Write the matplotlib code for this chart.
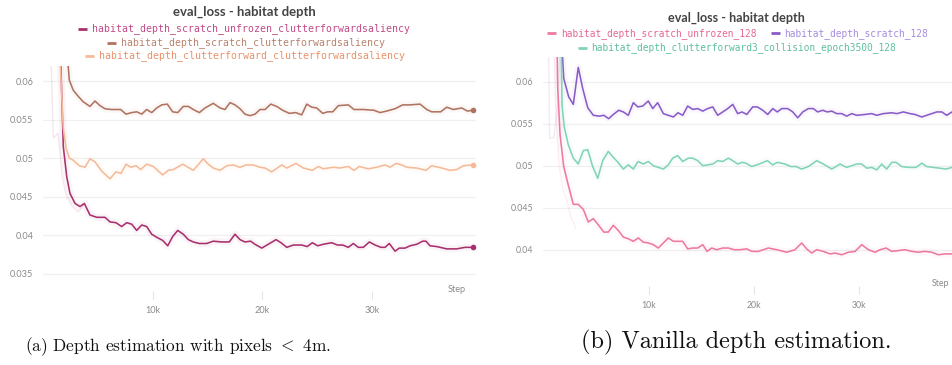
import matplotlib

matplotlib.use("Agg")
import matplotlib.pyplot as plt
from matplotlib.lines import Line2D
from matplotlib.ticker import FixedLocator, FuncFormatter

plt.rcParams["mathtext.fontset"] = "cm"

W, H = 952, 365

# ---------------------------------------------------------------- data (a)
A_TITLE = "eval_loss - habitat depth"
A_NAMES = ["habitat_depth_scratch_unfrozen_clutterforwardsaliency",
           "habitat_depth_scratch_clutterforwardsaliency",
           "habitat_depth_clutterforward_clutterforwardsaliency"]

a_unfrozen_step = [1250, 1850, 2160, 2460, 2920, 3370, 3770, 4280, 4900, 5650, 6110, 6650,
                   7170, 7630, 8090, 8540, 9000, 9450, 9910, 10370, 10910, 11370, 11820,
                   12280, 12790, 13250, 13700, 14250, 14920, 15520, 16290, 16980, 17500,
                   17960, 18410, 18930, 19320, 19940, 20540, 21240, 21700, 22220, 22820,
                   23580, 24090, 24550, 25040, 25550, 26320, 26830, 27320, 27830, 28290,
                   28740, 29200, 29750, 30270, 30810, 31180, 31570, 32090, 32480, 33000,
                   33460, 34070, 34610, 34910, 35280, 35890, 36800, 37710, 38470, 39170]
a_unfrozen_loss = [0.080, 0.0515, 0.0476, 0.0454, 0.0441, 0.0437, 0.0441, 0.0426, 0.0423,
                   0.0423, 0.0417, 0.0416, 0.0411, 0.0416, 0.0414, 0.0406, 0.0413, 0.0411,
                   0.0401, 0.0397, 0.0393, 0.0386, 0.0398, 0.0406, 0.0401, 0.0394, 0.0391,
                   0.0389, 0.0389, 0.0392, 0.0391, 0.0391, 0.0401, 0.0394, 0.0391, 0.0392,
                   0.0388, 0.0383, 0.0388, 0.0394, 0.0390, 0.0384, 0.0387, 0.0387, 0.0385,
                   0.0390, 0.0386, 0.0388, 0.0390, 0.0387, 0.0387, 0.0384, 0.0389, 0.0384,
                   0.0384, 0.0391, 0.0387, 0.0384, 0.0384, 0.0389, 0.0379, 0.0383, 0.0383,
                   0.0386, 0.0388, 0.0392, 0.0392, 0.0386, 0.0385, 0.0382, 0.0382, 0.0384,
                   0.0384]
a_unfrozen_raw_step = [600, 940, 1390, 1730, 2100, 2640, 3190, 3740]
a_unfrozen_raw_loss = [0.070, 0.0526, 0.0532, 0.0478, 0.0452, 0.0438, 0.0430, 0.0439]

a_scratch_step = [1950, 2400, 2760, 3220, 3670, 4280, 4740, 5200, 5650, 6260, 7080, 7570,
                  8090, 8540, 9000, 9450, 9910, 10370, 10820, 11330, 11820, 12280, 12790,
                  13250, 13700, 14250, 14770, 15520, 16140, 16590, 17050, 17500, 17960,
                  18410, 18870, 19330, 19780, 20240, 20760, 21300, 21850, 22450, 23040,
                  23580, 24040, 24500, 24950, 25500, 25950, 26410, 26920, 27830, 28350,
                  29200, 30170, 30720, 31330, 32090, 32790, 33460, 34370, 34980, 35430,
                  36250, 36800, 37400, 38170, 38680, 39170]
a_scratch_loss = [0.068, 0.0601, 0.0588, 0.0580, 0.0573, 0.0567, 0.0574, 0.0568, 0.0564,
                  0.0563, 0.0563, 0.0557, 0.0559, 0.0560, 0.0557, 0.0563, 0.0559, 0.0565,
                  0.0569, 0.0570, 0.0560, 0.0559, 0.0567, 0.0567, 0.0563, 0.0559, 0.0565,
                  0.0571, 0.0565, 0.0563, 0.0572, 0.0569, 0.0564, 0.0557, 0.0555, 0.0557,
                  0.0563, 0.0563, 0.0570, 0.0567, 0.0562, 0.0558, 0.0559, 0.0556, 0.0570,
                  0.0566, 0.0565, 0.0558, 0.0560, 0.0560, 0.0568, 0.0569, 0.0563, 0.0563,
                  0.0562, 0.0559, 0.0561, 0.0564, 0.0569, 0.0569, 0.0570, 0.0563, 0.0560,
                  0.0560, 0.0566, 0.0563, 0.0565, 0.0561, 0.0562]

a_cf_step = [1450, 1850, 2100, 2400, 2760, 3310, 3830, 4280, 4740, 5350, 6110, 6650, 7110,
             7570, 8000, 8480, 8910, 9450, 10060, 10910, 11420, 11880, 12740, 13700, 14610,
             15070, 15520, 16140, 16750, 17350, 17960, 18510, 19170, 19780, 20240, 20850,
             21760, 22220, 23060, 23730, 24550, 25100, 25550, 26460, 27070, 27830, 28350,
             28830, 29650, 30420, 31180, 31630, 32180, 32700, 33150, 34070, 34910, 35430,
             36350, 37100, 37710, 38320, 39170]
a_cf_loss = [0.066, 0.0539, 0.0513, 0.0500, 0.0497, 0.0490, 0.0488, 0.0499, 0.0495, 0.0483,
             0.0473, 0.0482, 0.0480, 0.0492, 0.0488, 0.0490, 0.0485, 0.0492, 0.0489, 0.0478,
             0.0484, 0.0485, 0.0492, 0.0484, 0.0499, 0.0492, 0.0487, 0.0484, 0.0490, 0.0491,
             0.0488, 0.0491, 0.0491, 0.0488, 0.0487, 0.0482, 0.0491, 0.0487, 0.0493, 0.0487,
             0.0484, 0.0489, 0.0486, 0.0488, 0.0487, 0.0489, 0.0484, 0.0489, 0.0486, 0.0488,
             0.0491, 0.0488, 0.0493, 0.0491, 0.0488, 0.0487, 0.0484, 0.0490, 0.0487, 0.0484,
             0.0485, 0.0490, 0.0491]

# ---------------------------------------------------------------- data (b)
B_TITLE = "eval_loss - habitat depth"
B_NAMES = ["habitat_depth_scratch_unfrozen_128",
           "habitat_depth_scratch_128",
           "habitat_depth_clutterforward3_collision_epoch3500_128"]

b_unfrozen_step = [1250, 1370, 1590, 1940, 2370, 2850, 3320, 3800, 4270, 4750, 5260, 5740,
                   6170, 6650, 7120, 7600, 8070, 8550, 9020, 9500, 9970, 10450, 10920, 11400,
                   11870, 12350, 12820, 13240, 13710, 14190, 14660, 15140, 15550, 15990,
                   16470, 17040, 17570, 18140, 18680, 19320, 19790, 20420, 21370, 22170,
                   23120, 23900, 24540, 25010, 25490, 25960, 26590, 27230, 27700, 28340,
                   28970, 29600, 30240, 30870, 31500, 31980, 32550, 33090, 33710, 34350,
                   34990, 35610, 36250, 36890, 37510, 38150, 38810, 39500]
b_unfrozen_loss = [0.068, 0.0592, 0.0537, 0.0499, 0.0477, 0.0454, 0.0454, 0.0448, 0.0433,
                   0.0437, 0.0429, 0.0421, 0.0421, 0.0429, 0.0423, 0.0415, 0.0413, 0.0410,
                   0.0414, 0.0409, 0.0408, 0.0406, 0.0402, 0.0408, 0.0414, 0.0410, 0.0410,
                   0.0410, 0.0401, 0.0402, 0.0402, 0.0406, 0.0398, 0.0402, 0.0400, 0.0402,
                   0.0402, 0.0400, 0.0400, 0.0401, 0.0398, 0.0398, 0.0402, 0.0400, 0.0397,
                   0.0400, 0.0408, 0.0401, 0.0396, 0.0400, 0.0398, 0.0395, 0.0396, 0.0394,
                   0.0397, 0.0398, 0.0406, 0.0400, 0.0397, 0.0400, 0.0402, 0.0398, 0.0399,
                   0.0400, 0.0398, 0.0397, 0.0398, 0.0397, 0.0394, 0.0395, 0.0395, 0.0394]
b_unfrozen_raw_step = [900, 1200, 1500, 1900, 2200, 2600, 3100]
b_unfrozen_raw_loss = [0.070, 0.0560, 0.0500, 0.0470, 0.0460, 0.0440, 0.0425]

b_scratch_step = [1600, 1940, 2410, 2850, 3320, 3740, 4220, 4750, 5320, 5740, 6210, 6650,
                  7160, 7600, 8070, 8550, 8970, 9440, 9970, 10390, 10860, 11400, 11870,
                  12350, 12790, 13240, 13710, 14190, 14660, 15140, 15610, 16090, 16560,
                  17040, 17510, 17990, 18460, 18870, 19320, 19890, 20320, 20840, 21310,
                  21790, 22220, 22640, 23210, 23690, 24160, 24640, 25170, 25640, 26060,
                  26530, 26970, 27390, 27860, 28340, 28810, 29290, 29760, 30550, 31190,
                  31660, 32290, 33090, 33560, 34190, 34830, 35300, 35940, 36410, 36890,
                  37360, 37840, 38310, 38810, 39500]
b_scratch_loss = [0.068, 0.0604, 0.0582, 0.0573, 0.0617, 0.0592, 0.0569, 0.0560, 0.0559,
                  0.0560, 0.0556, 0.0561, 0.0566, 0.0564, 0.0560, 0.0575, 0.0570, 0.0571,
                  0.0577, 0.0568, 0.0575, 0.0562, 0.0560, 0.0558, 0.0563, 0.0560, 0.0571,
                  0.0567, 0.0568, 0.0565, 0.0568, 0.0570, 0.0560, 0.0564, 0.0568, 0.0573,
                  0.0562, 0.0564, 0.0561, 0.0570, 0.0570, 0.0566, 0.0561, 0.0568, 0.0564,
                  0.0568, 0.0568, 0.0564, 0.0557, 0.0564, 0.0568, 0.0568, 0.0564, 0.0566,
                  0.0564, 0.0565, 0.0562, 0.0562, 0.0559, 0.0562, 0.0560, 0.0561, 0.0562,
                  0.0560, 0.0562, 0.0563, 0.0562, 0.0564, 0.0562, 0.0561, 0.0558, 0.0560,
                  0.0562, 0.0564, 0.0564, 0.0560, 0.0564, 0.0563]
b_scratch_raw_step = [450, 600, 1000, 1400, 1700]
b_scratch_raw_loss = [0.070, 0.0533, 0.0533, 0.0578, 0.0700]

b_cf_step = [1650, 1780, 1990, 2370, 2850, 3320, 3800, 4220, 4690, 5170, 5640, 6170, 6650,
             7160, 7600, 8070, 8550, 8990, 9500, 9970, 10450, 10920, 11400, 11870, 12290,
             12760, 13240, 13770, 14190, 14660, 15140, 15610, 16090, 16560, 17040, 17570,
             17990, 18460, 18870, 19250, 19790, 20510, 21270, 21790, 22220, 22950, 23500,
             24000, 24540, 25170, 25960, 26590, 27390, 28180, 28810, 29760, 30240, 30710,
             31190, 31660, 32140, 32610, 33090, 33500, 34040, 34660, 35400, 35940, 36410,
             37040, 37670, 38240, 38810, 39500]
b_cf_loss = [0.068, 0.0572, 0.0546, 0.0525, 0.0509, 0.0502, 0.0518, 0.0519, 0.0499, 0.0485,
             0.0506, 0.0517, 0.0510, 0.0503, 0.0496, 0.0501, 0.0496, 0.0505, 0.0502, 0.0505,
             0.0500, 0.0498, 0.0496, 0.0501, 0.0509, 0.0512, 0.0505, 0.0509, 0.0509, 0.0506,
             0.0500, 0.0501, 0.0502, 0.0506, 0.0505, 0.0509, 0.0506, 0.0502, 0.0504, 0.0503,
             0.0499, 0.0502, 0.0506, 0.0501, 0.0504, 0.0502, 0.0499, 0.0499, 0.0496, 0.0499,
             0.0506, 0.0502, 0.0496, 0.0502, 0.0498, 0.0502, 0.0502, 0.0497, 0.0498, 0.0495,
             0.0502, 0.0496, 0.0504, 0.0504, 0.0499, 0.0498, 0.0498, 0.0503, 0.0499, 0.0498,
             0.0497, 0.0496, 0.0498, 0.0499]

X_TICKS = [10000, 20000, 30000]
X_TICK_LABELS = ["10k", "20k", "30k"]
A_Y_TICKS = [0.035, 0.04, 0.045, 0.05, 0.055, 0.06]
B_Y_TICKS = [0.04, 0.045, 0.05, 0.055, 0.06]
CAPTIONS = [r"(a) Depth estimation with pixels $<$ 4m.", "(b) Vanilla depth estimation."]

# colores: (línea, texto de leyenda)
A_COLORS = [("#a8306e", "#c04a88"), ("#b07360", "#b8836e"), ("#f5bb98", "#e8926a")]
B_COLORS = [("#ee7aa0", "#e8668f"), ("#8a5cc8", "#a68be0"), ("#82d4b8", "#5fbf9e")]

TICK_GRAY = "#8a8a8a"
SANS = ["Lato", "DejaVu Sans"]
MONO = ["DejaVu Sans Mono"]


def fx(px):
    return px / W


def fy(py):
    return 1 - py / H


def fit_width(txt, target_px):
    # ajusta el tamaño de fuente para que el texto ocupe target_px de ancho
    r = fig.canvas.get_renderer()
    w = txt.get_window_extent(r).width
    txt.set_fontsize(txt.get_fontsize() * target_px / w)


def style_axes(ax, yticks, xlim, ylim, fs):
    ax.set_xlim(*xlim)
    ax.set_ylim(*ylim)
    for s in ax.spines.values():
        s.set_visible(False)
    ax.yaxis.set_major_locator(FixedLocator(yticks))
    ax.yaxis.set_major_formatter(FuncFormatter(lambda v, _: f"{v:g}"))
    ax.xaxis.set_major_locator(FixedLocator(X_TICKS))
    ax.set_xticklabels(X_TICK_LABELS)
    ax.tick_params(axis="y", length=0, pad=7, labelsize=fs, labelcolor=TICK_GRAY)
    ax.tick_params(axis="x", length=6, width=0.8, color="#e4e4e4", pad=5,
                   labelsize=fs, labelcolor=TICK_GRAY)
    for lab in ax.get_xticklabels() + ax.get_yticklabels():
        lab.set_family(SANS)
    ax.yaxis.grid(True, color="#f0f0f0", lw=0.9)
    ax.set_axisbelow(True)


def legend_entry(x_dash, y, text, col_line, col_text, fs):
    fig.add_artist(Line2D([fx(x_dash), fx(x_dash + 9)], [fy(y), fy(y)],
                          color=col_line, lw=2.0, solid_capstyle="butt"))
    fig.text(fx(x_dash + 14), fy(y), text, color=col_text, fontsize=fs,
             family=MONO, ha="left", va="center")


fig = plt.figure(figsize=(W / 100, H / 100), dpi=100)

# ---------------------------------------------------------------- panel (a)
ax_a = fig.add_axes([fx(43), fy(291), (476 - 43) / W, (291 - 66) / H])
style_axes(ax_a, A_Y_TICKS, (0, 39470), (0.03273, 0.06195), 6.6)
ax_a.plot(a_unfrozen_raw_step, a_unfrozen_raw_loss, color=A_COLORS[0][0], lw=1, alpha=0.12)
series_a = [(a_unfrozen_step, a_unfrozen_loss), (a_scratch_step, a_scratch_loss),
            (a_cf_step, a_cf_loss)]
for (st, lo), (cl, _) in zip(series_a, A_COLORS):
    ax_a.plot(st, lo, color=cl, lw=5, alpha=0.05, solid_joinstyle="round")
    ax_a.plot(st, lo, color=cl, lw=1.15)
    ax_a.plot(st[-1], lo[-1], "o", color=cl, ms=3)

t = fig.text(fx(244), fy(12), A_TITLE, ha="center", va="center", fontsize=8.4,
             fontweight="bold", color="#444444", family=SANS)
fit_width(t, 142)
legend_entry(78, 28.5, A_NAMES[0], *A_COLORS[0], 7.15)
legend_entry(106.5, 42.5, A_NAMES[1], *A_COLORS[1], 7.15)
legend_entry(85, 56, A_NAMES[2], *A_COLORS[2], 7.15)
fig.text(fx(466), fy(289), "Step", ha="right", va="center", fontsize=6.6,
         color=TICK_GRAY, family=SANS)

# ---------------------------------------------------------------- panel (b)
ax_b = fig.add_axes([fx(543.3), fy(286), (W - 543.3) / W, (286 - 57) / H])
style_axes(ax_b, B_Y_TICKS, (0, 38810), (0.03568, 0.06294), 6.35)
ax_b.plot(b_unfrozen_raw_step, b_unfrozen_raw_loss, color=B_COLORS[0][0], lw=1, alpha=0.12)
ax_b.plot(b_scratch_raw_step, b_scratch_raw_loss, color=B_COLORS[1][0], lw=1, alpha=0.12)
series_b = [(b_unfrozen_step, b_unfrozen_loss), (b_scratch_step, b_scratch_loss),
            (b_cf_step, b_cf_loss)]
for (st, lo), (cl, _) in zip(series_b, B_COLORS):
    ax_b.plot(st, lo, color=cl, lw=5, alpha=0.05, solid_joinstyle="round")
    ax_b.plot(st, lo, color=cl, lw=1.15)

t = fig.text(fx(736), fy(17.5), B_TITLE, ha="center", va="center", fontsize=8.1,
             fontweight="bold", color="#444444", family=SANS)
fit_width(t, 137)
legend_entry(547, 33.3, B_NAMES[0], *B_COLORS[0], 6.85)
legend_entry(770.5, 33.3, B_NAMES[1], *B_COLORS[1], 6.85)
legend_entry(577.5, 47.7, B_NAMES[2], *B_COLORS[2], 6.85)
fig.text(fx(949), fy(284), "Step", ha="right", va="center", fontsize=6.35,
         color=TICK_GRAY, family=SANS)

# ---------------------------------------------------------------- pies de figura
t = fig.text(fx(178), fy(347), CAPTIONS[0], ha="center", va="center", fontsize=13.5,
             family="cmr10", color="#111111")
fit_width(t, 306)
t = fig.text(fx(736), fy(342), CAPTIONS[1], ha="center", va="center", fontsize=13.5,
             family="cmr10", color="#111111")
fit_width(t, 310)

fig.savefig("out.png", dpi=100, facecolor="white")
